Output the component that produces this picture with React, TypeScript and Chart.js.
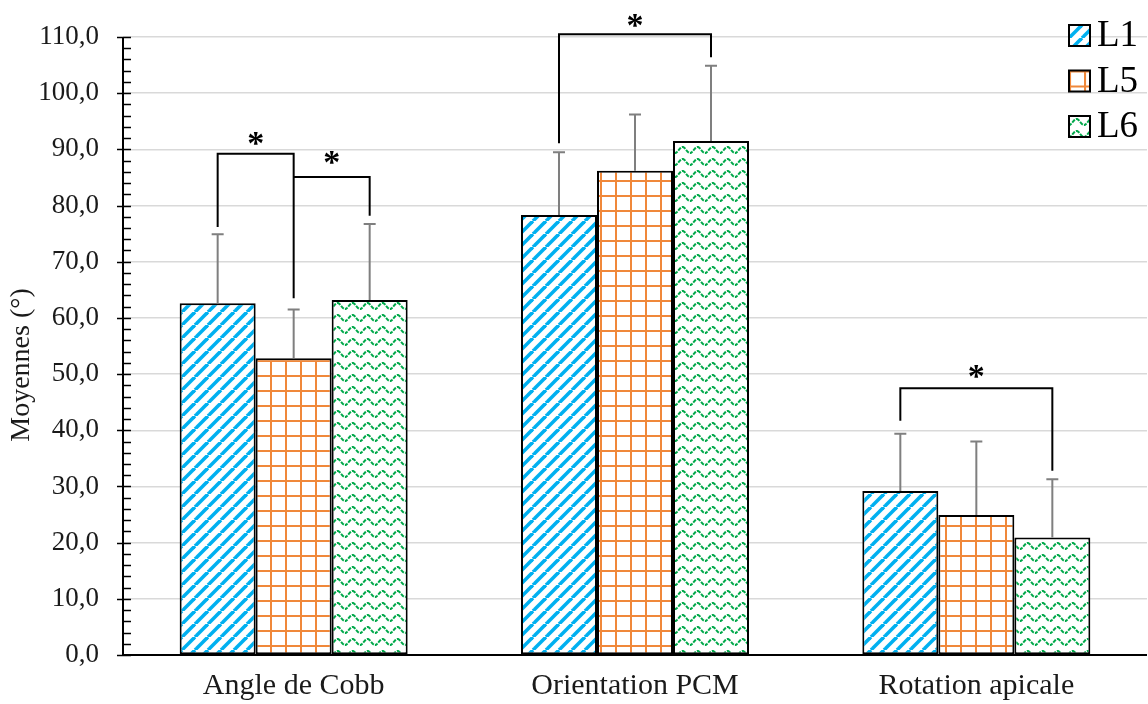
import React, { useEffect, useRef } from "react";
import { Chart, registerables } from "chart.js";
Chart.register(...registerables);

const categories = ["Angle de Cobb", "Orientation PCM", "Rotation apicale"];
const seriesNames = ["L1", "L5", "L6"];
const meansL1 = [62.6, 78.3, 29.2];
const meansL5 = [52.8, 86.2, 24.9];
const meansL6 = [63.2, 91.5, 20.9];
const sdL1 = [12.3, 11.2, 10.2];
const sdL5 = [8.7, 10.0, 13.1];
const sdL6 = [13.5, 13.4, 10.4];
const yMin = 0;
const yMax = 110;
const yStep = 10;
const yMinorStep = 2;
const yTitle = "Moyennes (°)";

// significance brackets (category index, series from/to, levels in data units)
const bracketCategory = [0, 0, 1, 2];
const bracketFrom = [0, 1, 0, 0];
const bracketTo = [1, 2, 2, 2];
const bracketLevel = [89.2, 85.1, 110.5, 47.5];
const bracketLeftEnd = [76.2, 85.1, 91.1, 41.7];
const bracketRightEnd = [63.5, 78.2, 106.4, 32.8];
const bracketStarLevel = [92.0, 88.5, 113.0, 50.4];

const FONT = "'Liberation Serif', 'Times New Roman', serif";
const TEXT = "#1a1a1a";

function makePattern(kind: number): CanvasPattern {
  const c = document.createElement("canvas");
  const ctx = c.getContext("2d")!;
  if (kind === 0) {
    const s = 13;
    c.width = s; c.height = s;
    ctx.fillStyle = "#fff"; ctx.fillRect(0, 0, s, s);
    ctx.strokeStyle = "#00B0F0"; ctx.lineWidth = 3.6;
    for (const o of [-s, 0, s]) {
      ctx.beginPath(); ctx.moveTo(o, s); ctx.lineTo(o + s, 0); ctx.stroke();
    }
  } else if (kind === 1) {
    const s = 15;
    c.width = s; c.height = s;
    ctx.fillStyle = "#fff"; ctx.fillRect(0, 0, s, s);
    ctx.fillStyle = "#F0883A";
    ctx.fillRect(0, 0, 2, s);
    ctx.fillRect(0, 0, s, 2);
  } else {
    const w = 15, h = 12;
    c.width = w; c.height = h;
    ctx.fillStyle = "#fff"; ctx.fillRect(0, 0, w, h);
    ctx.strokeStyle = "#00A84A"; ctx.lineWidth = 2;
    ctx.setLineDash([4, 1.2]);
    ctx.beginPath();
    for (let x = -1; x <= w + 1; x += 0.5) {
      const y = 6 + 3 * Math.cos((x / w) * Math.PI * 2);
      if (x === -1) ctx.moveTo(x, y); else ctx.lineTo(x, y);
    }
    ctx.stroke();
  }
  return ctx.createPattern(c, "repeat")!;
}

export default function App() {
  const ref = useRef<HTMLCanvasElement>(null);
  useEffect(() => {
    document.body.style.margin = "0";
    const patterns = [makePattern(0), makePattern(1), makePattern(2)];
    const means = [meansL1, meansL5, meansL6];
    const sds = [sdL1, sdL5, sdL6];

    const overlay = {
      id: "overlay",
      afterDatasetsDraw(chart: any) {
        const ctx = chart.ctx;
        const y = chart.scales.y;
        ctx.save();
        ctx.strokeStyle = "#7f7f7f";
        ctx.lineWidth = 2;
        for (let d = 0; d < 3; d++) {
          const meta = chart.getDatasetMeta(d);
          meta.data.forEach((bar: any, i: number) => {
            const top = y.getPixelForValue(means[d][i]);
            const end = y.getPixelForValue(means[d][i] + sds[d][i]);
            ctx.beginPath();
            ctx.moveTo(bar.x, top); ctx.lineTo(bar.x, end);
            ctx.moveTo(bar.x - 6, end); ctx.lineTo(bar.x + 6, end);
            ctx.stroke();
          });
        }
        ctx.restore();
      },
      afterDraw(chart: any) {
        const ctx = chart.ctx;
        const y = chart.scales.y;
        const a = chart.chartArea;
        ctx.save();
        ctx.strokeStyle = "#000";
        ctx.lineWidth = 2;
        ctx.beginPath();
        ctx.moveTo(a.left, a.top); ctx.lineTo(a.left, a.bottom);
        ctx.moveTo(a.left, a.bottom); ctx.lineTo(a.right, a.bottom);
        ctx.stroke();
        ctx.lineWidth = 1.5;
        for (let v = yMin; v <= yMax + 1e-9; v += yMinorStep) {
          const py = Math.round(y.getPixelForValue(v)) + 0.5;
          const major = Math.abs(v / yStep - Math.round(v / yStep)) < 1e-6;
          ctx.beginPath();
          ctx.moveTo(a.left - (major ? 6 : 0), py);
          ctx.lineTo(a.left + 8, py);
          ctx.stroke();
        }
        // brackets
        ctx.strokeStyle = "#000";
        ctx.lineWidth = 2;
        ctx.fillStyle = "#000";
        ctx.font = `bold 34px ${FONT}`;
        ctx.textAlign = "center";
        ctx.textBaseline = "alphabetic";
        for (let k = 0; k < bracketLevel.length; k++) {
          const x1 = chart.getDatasetMeta(bracketFrom[k]).data[bracketCategory[k]].x;
          const x2 = chart.getDatasetMeta(bracketTo[k]).data[bracketCategory[k]].x;
          const yl = y.getPixelForValue(bracketLevel[k]);
          ctx.beginPath();
          ctx.moveTo(x1, y.getPixelForValue(bracketLeftEnd[k]));
          ctx.lineTo(x1, yl);
          ctx.lineTo(x2, yl);
          ctx.lineTo(x2, y.getPixelForValue(bracketRightEnd[k]));
          ctx.stroke();
          const m = ctx.measureText("*");
          const sy = y.getPixelForValue(bracketStarLevel[k]);
          const asc = m.actualBoundingBoxAscent, desc = m.actualBoundingBoxDescent;
          ctx.fillText("*", (x1 + x2) / 2, sy + (asc - desc) / 2);
        }
        // y title
        ctx.save();
        ctx.translate(22, (a.top + a.bottom) / 2 + 19);
        ctx.rotate(-Math.PI / 2);
        ctx.fillStyle = TEXT;
        ctx.font = `28px ${FONT}`;
        ctx.textAlign = "center";
        ctx.textBaseline = "middle";
        ctx.fillText(yTitle, 0, 0);
        ctx.restore();
        // legend
        const lx = a.right - 78;
        for (let d = 0; d < 3; d++) {
          const by = a.top - 12 + d * 45.5;
          ctx.fillStyle = patterns[d];
          ctx.save();
          ctx.translate(lx, by);
          ctx.fillRect(0, 0, 21, 21);
          ctx.restore();
          ctx.strokeStyle = "#000";
          ctx.lineWidth = 2;
          ctx.strokeRect(lx, by, 21, 21);
          ctx.fillStyle = "#000";
          ctx.font = `37px ${FONT}`;
          ctx.textAlign = "left";
          ctx.textBaseline = "alphabetic";
          ctx.fillText(seriesNames[d], lx + 28, by + 21);
        }
        ctx.restore();
      },
    };

    const chart = new Chart(ref.current!, {
      type: "bar",
      data: {
        labels: categories,
        datasets: seriesNames.map((n, d) => ({
          label: n,
          data: means[d],
          backgroundColor: patterns[d],
          borderColor: "#000",
          borderWidth: 2,
          borderSkipped: false,
          categoryPercentage: 0.668,
          barPercentage: 1,
        })),
      },
      options: {
        responsive: false,
        animation: false,
        layout: { padding: { top: 37, right: 1, left: 0, bottom: 0 } },
        plugins: { legend: { display: false }, tooltip: { enabled: false } },
        scales: {
          x: {
            grid: { display: false },
            border: { display: false },
            ticks: { font: { family: FONT, size: 30 }, color: TEXT, padding: 5, maxRotation: 0 },
            afterFit: (s: any) => { s.height = 49; s.paddingLeft = 0; s.paddingRight = 0; },
          },
          y: {
            min: yMin,
            max: yMax,
            border: { display: false },
            grid: {
              drawTicks: false,
              color: (c: any) => (c.tick && c.tick.value === 0 ? "rgba(0,0,0,0)" : "#d9d9d9"),
              lineWidth: 1.5,
            },
            ticks: {
              stepSize: yStep,
              padding: 24,
              color: TEXT,
              font: { family: FONT, size: 27 },
              callback: (v: any) => Number(v).toFixed(1).replace(".", ","),
            },
            afterFit: (s: any) => { s.width = 123; s.paddingTop = 0; s.paddingBottom = 0; },
          },
        },
      },
      plugins: [overlay],
    });
    return () => chart.destroy();
  }, []);
  return (
    <div style={{ width: 1148, height: 704 }}>
      <canvas ref={ref} width={1148} height={704} style={{ display: "block" }} />
    </div>
  );
}
